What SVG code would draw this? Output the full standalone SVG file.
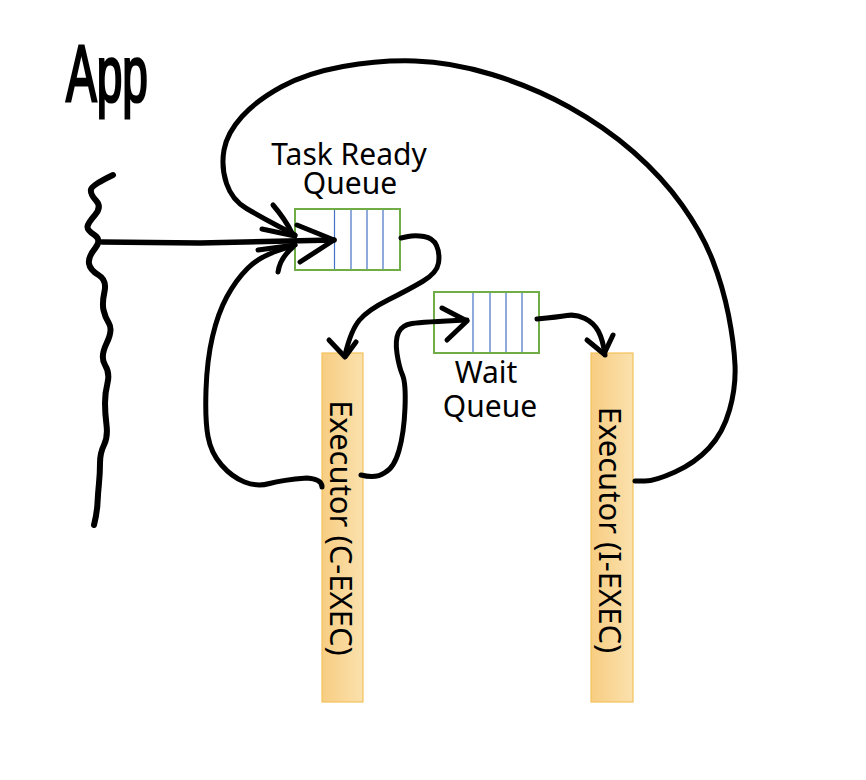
<svg xmlns="http://www.w3.org/2000/svg" width="866" height="780" viewBox="0 0 866 780">
<defs>
<linearGradient id="exg" x1="0" y1="0" x2="1" y2="0">
<stop offset="0" stop-color="#f7cd82"/>
<stop offset="1" stop-color="#fbe1ad"/>
</linearGradient>
<style>
.ink{fill:none;stroke:#000;stroke-width:5;stroke-linecap:round;stroke-linejoin:round}
.q{fill:#fff;stroke:#70ad47;stroke-width:2}
.qs{stroke:#4472c4;stroke-width:1.2}
.ex{fill:url(#exg);stroke:#f4c25a;stroke-width:1.2}
.t{font-family:"Noto Sans","Open Sans",sans-serif;font-size:30px;fill:#000;text-anchor:middle}
.tx{font-family:"Noto Sans","Open Sans",sans-serif;font-size:31px;fill:#000;text-anchor:middle}
</style>
</defs>
<rect width="866" height="780" fill="#fff"/>

<g id="app">
<text x="0" y="0" transform="translate(66,101) scale(0.64,1.1)" font-family="Liberation Sans, sans-serif" font-size="72" fill="#000" stroke="#000" stroke-width="2.5">App</text>
<path class="ink" style="stroke-width:6" d="M113,175 Q92,185 91,189.5 Q90,194 96,200.5 Q102,207 95,215 Q88,223 87.5,226.5 Q87,230 94.5,235 Q102,240 95,248.5 Q88,257 89,263.5 Q90,270 98.5,275 Q107,280 104.5,291.5 Q102,303 103.5,310 Q105,317 109,323.5 Q113,330 106.5,343.5 Q100,357 105,365 Q110,373 107.5,383 Q105,393 105,403 Q105,413 106.5,425 Q108,437 104,445 Q100,453 100,463 Q100,473 99,483 Q98,493 97.5,503 Q97,513 94,525"/>
</g>

<g id="task-ready-queue">
<rect class="q" x="295" y="209" width="105" height="61"/>
<line class="qs" x1="334.5" y1="210" x2="334.5" y2="269"/>
<line class="qs" x1="351" y1="210" x2="351" y2="269"/>
<line class="qs" x1="367" y1="210" x2="367" y2="269"/>
<line class="qs" x1="383" y1="210" x2="383" y2="269"/>
<text class="t"><tspan x="349" y="165">Task Ready</tspan><tspan x="350" y="194">Queue</tspan></text>
</g>

<g id="wait-queue">
<rect class="q" x="434" y="292" width="105" height="61"/>
<line class="qs" x1="473" y1="293" x2="473" y2="352"/>
<line class="qs" x1="490" y1="293" x2="490" y2="352"/>
<line class="qs" x1="506" y1="293" x2="506" y2="352"/>
<line class="qs" x1="522" y1="293" x2="522" y2="352"/>
<text class="t"><tspan x="486" y="383">Wait</tspan><tspan x="490" y="417">Queue</tspan></text>
</g>

<g id="c-exec">
<rect class="ex" x="322" y="353" width="41" height="349"/>
<text class="tx" transform="translate(330,528) rotate(90)">Executor (C-EXEC)</text>
</g>

<g id="i-exec">
<rect class="ex" x="591" y="353" width="42" height="349"/>
<text class="tx" transform="translate(599,530) rotate(90)">Executor (I-EXEC)</text>
</g>

<g id="connectors">
<path class="ink" style="stroke-width:5.5" d="M102,242 L200,243 L334,240"/>
<path class="ink" d="M297,225 L334,240 L300,262"/>
<path class="ink" d="M635,481 L645,481 Q655,481 675,472 Q695,463 709,448 Q723,433 729.5,410 Q736,387 735,365 Q734,343 728.5,315 Q723,287 712.5,260 Q702,233 682,205 Q662,177 633.5,152 Q605,127 569,107 Q533,87 492,74.5 Q451,62 415,61 Q379,60 343,66.5 Q307,73 282,86.5 Q257,100 242,116.5 Q227,133 224,150 Q221,167 226.5,183.5 Q232,200 246.5,208.5 Q261,217 278,226 L295,235"/>
<path class="ink" d="M273,205 Q285,219 292,233 M262,229 L295,236"/>
<path class="ink" d="M322,487 Q322,479 307,478 Q282,480 269.5,483.5 Q257,487 244.5,482 Q232,477 221.5,465 Q211,453 208,436.5 Q205,420 206,390 Q207,360 212.5,336.5 Q218,313 227,296.5 Q236,280 247.5,268.5 Q259,257 277,251 L295,245"/>
<path class="ink" d="M258,250 L295,245 M278,272 Q280,258 293,247"/>
<path class="ink" d="M401,238 L408,236.5 Q415,235 424,236.5 Q433,238 436.5,245.5 Q440,253 438.5,263 Q437,273 422.5,281.5 Q408,290 388,300 Q368,310 359.5,320 Q351,330 345,355"/>
<path class="ink" d="M329,340 L345,357 L356,342"/>
<path class="ink" d="M361,475 Q376,479 385,472.5 Q394,468 399,450.5 Q404,433 405,408 Q406,383 402.5,375 Q399,367 397,353.5 Q395,340 398.5,332.5 Q402,325 412,323.5 Q422,322 467,320"/>
<path class="ink" d="M442,308 L467,321 L447,340"/>
<path class="ink" d="M537,319 Q558,317 567,315.5 Q576,314 585,318.5 Q594,323 598.5,331.5 Q603,340 605,355"/>
<path class="ink" d="M587,340 L604,354 L613,335"/>
</g>
</svg>
